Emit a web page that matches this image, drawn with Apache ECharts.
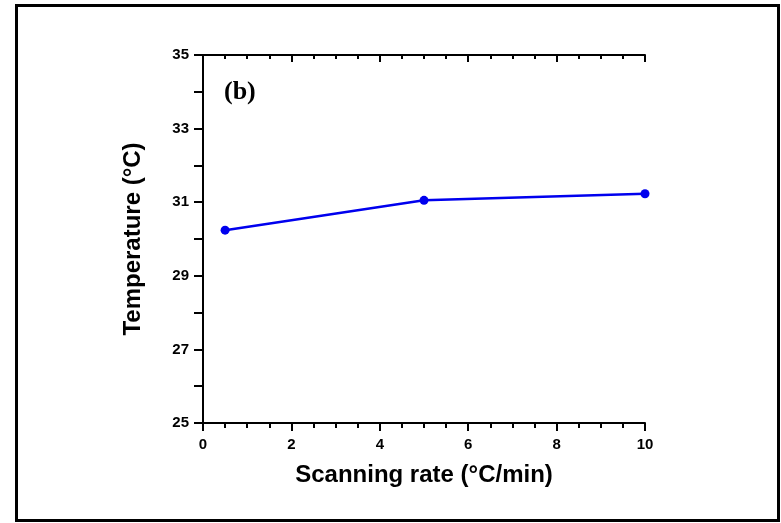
<!DOCTYPE html>
<html>
<head>
<meta charset="utf-8">
<script src="https://cdn.jsdelivr.net/npm/echarts@6/dist/echarts.min.js"></script>
<style>
  html, body { margin: 0; padding: 0; background: #fff; }
  #chart { width: 781px; height: 523px; }
</style>
</head>
<body>
<div id="chart"></div>
<script>
// data
var scanRates = [0.5, 5, 10];
var temperatures = [30.24, 31.05, 31.23];

var myChart = echarts.init(document.getElementById('chart'));

var labelFont = {
  fontFamily: 'Liberation Sans, Arial, sans-serif',
  fontWeight: 'bold',
  fontSize: 15,
  color: '#000'
};
var titleFont = {
  fontFamily: 'Liberation Sans, Arial, sans-serif',
  fontWeight: 'bold',
  fontSize: 24,
  color: '#000'
};
var axisLineStyle = { color: '#000', width: 2 };

var option = {
  animation: false,
  backgroundColor: '#fff',
  grid: { left: 203, top: 55, width: 442, height: 368 },
  graphic: [
    {
      type: 'rect',
      shape: { x: 16.5, y: 5.5, width: 762, height: 515 },
      style: { fill: 'none', stroke: '#000', lineWidth: 3 },
      silent: true
    },
    {
      type: 'text',
      left: 224,
      top: 79,
      style: {
        text: '(b)',
        font: 'bold 26px "Liberation Serif", "Times New Roman", serif',
        fill: '#000'
      }
    }
  ],
  xAxis: [
    {
      type: 'value',
      min: 0,
      max: 10,
      interval: 2,
      name: 'Scanning rate (°C/min)',
      nameLocation: 'middle',
      nameGap: 40,
      nameTextStyle: titleFont,
      axisLine: { show: true, lineStyle: axisLineStyle },
      axisTick: { show: true, inside: false, length: 8, lineStyle: { color: '#000', width: 2 } },
      minorTick: { show: true, splitNumber: 4, length: 5, lineStyle: { color: '#000', width: 2 } },
      axisLabel: Object.assign({ margin: 14 }, labelFont),
      splitLine: { show: false }
    },
    {
      type: 'value',
      position: 'top',
      min: 0,
      max: 10,
      interval: 2,
      axisLine: { show: true, lineStyle: axisLineStyle },
      axisTick: { show: true, inside: true, length: 7, lineStyle: { color: '#000', width: 2 } },
      minorTick: { show: true, splitNumber: 4, length: 4, lineStyle: { color: '#000', width: 2 } },
      axisLabel: { show: false },
      splitLine: { show: false }
    }
  ],
  yAxis: [
    {
      type: 'value',
      min: 25,
      max: 35,
      interval: 2,
      name: 'Temperature (°C)',
      nameLocation: 'middle',
      nameGap: 58,
      nameTextStyle: titleFont,
      axisLine: { show: true, lineStyle: axisLineStyle },
      axisTick: { show: true, inside: false, length: 9, lineStyle: { color: '#000', width: 2 } },
      minorTick: { show: true, splitNumber: 2, length: 9, lineStyle: { color: '#000', width: 2 } },
      axisLabel: Object.assign({ margin: 14 }, labelFont),
      splitLine: { show: false }
    },
    {
      type: 'value',
      position: 'right',
      min: 25,
      max: 35,
      interval: 2,
      axisLine: { show: true, lineStyle: axisLineStyle },
      axisTick: { show: true, inside: true, length: 8, lineStyle: { color: '#000', width: 2 } },
      minorTick: { show: true, splitNumber: 2, length: 8, lineStyle: { color: '#000', width: 2 } },
      axisLabel: { show: false },
      splitLine: { show: false }
    }
  ],
  series: [
    {
      type: 'line',
      data: scanRates.map(function (x, i) { return [x, temperatures[i]]; }),
      symbol: 'circle',
      symbolSize: 9,
      lineStyle: { color: '#0000ee', width: 2.5 },
      itemStyle: { color: '#0000ee' }
    }
  ]
};

option && myChart.setOption(option);
</script>
</body>
</html>
